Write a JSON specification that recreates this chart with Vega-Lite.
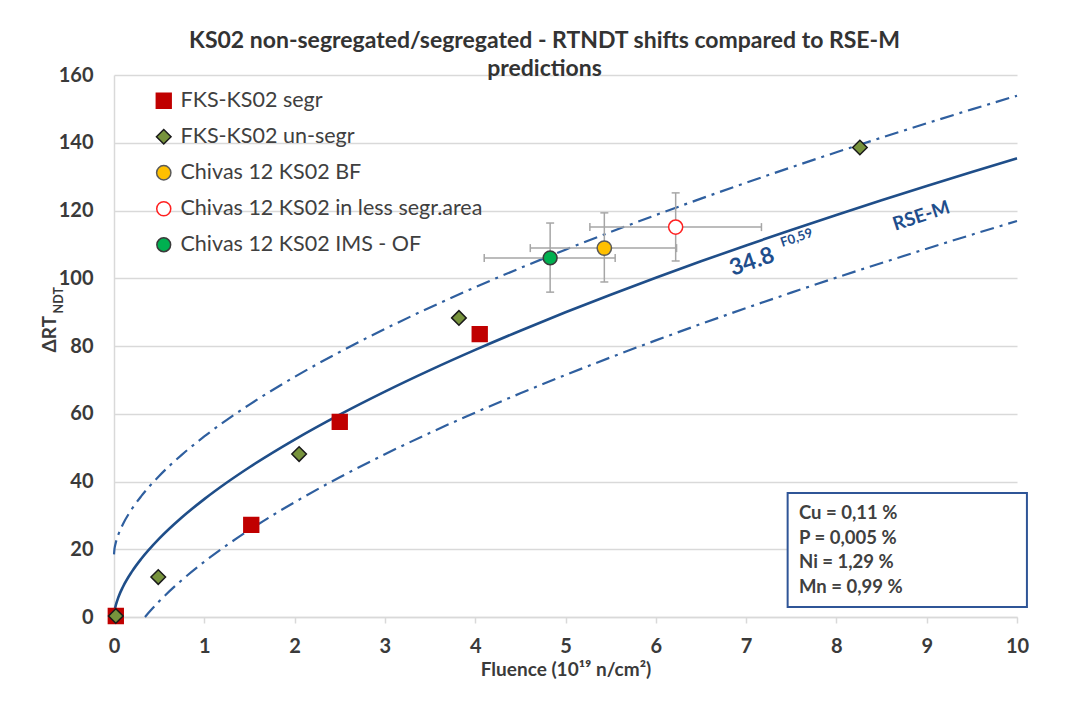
{
  "$schema": "https://vega.github.io/schema/vega-lite/v6.json",
  "autosize": {"type": "none"},
  "width": 903,
  "height": 542,
  "padding": {"left": 114, "top": 75, "right": 63, "bottom": 90},
  "background": "white",
  "config": {
    "font": "Lato",
    "view": {"stroke": null},
    "legend": {
      "labelFontSize": 21.5, "labelColor": "#404040", "labelFont": "Lato", "labelLimit": 500,
      "rowPadding": 13, "symbolStrokeWidth": 1.5, "labelOffset": 6, "padding": 0,
      "symbolOpacity": 1
    }
  },
  "title": {
    "text": ["KS02 non-segregated/segregated - RTNDT shifts compared to RSE-M", "predictions"],
    "fontSize": 23, "fontWeight": "bold", "color": "#333333", "lineHeight": 28,
    "anchor": "middle", "dx": -21, "offset": -16
  },
  "datasets": {
    "rsem": [
      {"F": 0, "v": 0}, {"F": 0.005, "v": 1.53}, {"F": 0.01, "v": 2.3}, {"F": 0.02, "v": 3.46},
      {"F": 0.05, "v": 5.94}, {"F": 0.1, "v": 8.94}, {"F": 0.2, "v": 13.46}, {"F": 0.3, "v": 17.1},
      {"F": 0.5, "v": 23.12}, {"F": 0.75, "v": 29.37}, {"F": 1, "v": 34.8}, {"F": 1.25, "v": 39.7},
      {"F": 1.5, "v": 44.21}, {"F": 2, "v": 52.38}, {"F": 2.5, "v": 59.75}, {"F": 3, "v": 66.54},
      {"F": 3.5, "v": 72.88}, {"F": 4, "v": 78.85}, {"F": 4.5, "v": 84.52}, {"F": 5, "v": 89.94},
      {"F": 5.5, "v": 95.15}, {"F": 6, "v": 100.16}, {"F": 6.5, "v": 105.0}, {"F": 7, "v": 109.69},
      {"F": 7.5, "v": 114.25}, {"F": 8, "v": 118.69}, {"F": 8.5, "v": 123.0}, {"F": 9, "v": 127.23},
      {"F": 9.5, "v": 131.36}, {"F": 10, "v": 135.39}
    ],
    "bounds": [
      {"b": "upper", "F": 0, "v": 18.5}, {"b": "upper", "F": 0.005, "v": 20.03}, {"b": "upper", "F": 0.01, "v": 20.8},
      {"b": "upper", "F": 0.02, "v": 21.96}, {"b": "upper", "F": 0.05, "v": 24.44}, {"b": "upper", "F": 0.1, "v": 27.44},
      {"b": "upper", "F": 0.2, "v": 31.96}, {"b": "upper", "F": 0.3, "v": 35.6}, {"b": "upper", "F": 0.5, "v": 41.62},
      {"b": "upper", "F": 0.75, "v": 47.87}, {"b": "upper", "F": 1, "v": 53.3}, {"b": "upper", "F": 1.25, "v": 58.2},
      {"b": "upper", "F": 1.5, "v": 62.71}, {"b": "upper", "F": 2, "v": 70.88}, {"b": "upper", "F": 2.5, "v": 78.25},
      {"b": "upper", "F": 3, "v": 85.04}, {"b": "upper", "F": 3.5, "v": 91.38}, {"b": "upper", "F": 4, "v": 97.35},
      {"b": "upper", "F": 4.5, "v": 103.02}, {"b": "upper", "F": 5, "v": 108.44}, {"b": "upper", "F": 5.5, "v": 113.65},
      {"b": "upper", "F": 6, "v": 118.66}, {"b": "upper", "F": 6.5, "v": 123.5}, {"b": "upper", "F": 7, "v": 128.19},
      {"b": "upper", "F": 7.5, "v": 132.75}, {"b": "upper", "F": 8, "v": 137.19}, {"b": "upper", "F": 8.5, "v": 141.5},
      {"b": "upper", "F": 9, "v": 145.73}, {"b": "upper", "F": 9.5, "v": 149.86}, {"b": "upper", "F": 10, "v": 153.89},
      {"b": "lower", "F": 0.3427, "v": 0}, {"b": "lower", "F": 0.4, "v": 1.77}, {"b": "lower", "F": 0.5, "v": 4.62},
      {"b": "lower", "F": 0.75, "v": 10.87}, {"b": "lower", "F": 1, "v": 16.3}, {"b": "lower", "F": 1.25, "v": 21.2},
      {"b": "lower", "F": 1.5, "v": 25.71}, {"b": "lower", "F": 2, "v": 33.88}, {"b": "lower", "F": 2.5, "v": 41.25},
      {"b": "lower", "F": 3, "v": 48.04}, {"b": "lower", "F": 3.5, "v": 54.38}, {"b": "lower", "F": 4, "v": 60.35},
      {"b": "lower", "F": 4.5, "v": 66.02}, {"b": "lower", "F": 5, "v": 71.44}, {"b": "lower", "F": 5.5, "v": 76.65},
      {"b": "lower", "F": 6, "v": 81.66}, {"b": "lower", "F": 6.5, "v": 86.5}, {"b": "lower", "F": 7, "v": 91.19},
      {"b": "lower", "F": 7.5, "v": 95.75}, {"b": "lower", "F": 8, "v": 100.19}, {"b": "lower", "F": 8.5, "v": 104.5},
      {"b": "lower", "F": 9, "v": 108.73}, {"b": "lower", "F": 9.5, "v": 112.86}, {"b": "lower", "F": 10, "v": 116.89}
    ],
    "pts": [
      {"s": "FKS-KS02 segr", "F": 0.02, "v": 0.3},
      {"s": "FKS-KS02 segr", "F": 1.52, "v": 27.2},
      {"s": "FKS-KS02 segr", "F": 2.5, "v": 57.6},
      {"s": "FKS-KS02 segr", "F": 4.05, "v": 83.5},
      {"s": "FKS-KS02 un-segr", "F": 0.02, "v": 0.3},
      {"s": "FKS-KS02 un-segr", "F": 0.49, "v": 11.8},
      {"s": "FKS-KS02 un-segr", "F": 2.05, "v": 48.1},
      {"s": "FKS-KS02 un-segr", "F": 3.82, "v": 88.3},
      {"s": "FKS-KS02 un-segr", "F": 8.26, "v": 138.6},
      {"s": "Chivas 12 KS02 BF", "F": 5.43, "v": 108.9, "Flo": 4.61, "Fhi": 6.23, "ylo": 98.9, "yhi": 119.3},
      {"s": "Chivas 12 KS02 in less segr.area", "F": 6.22, "v": 115.1, "Flo": 5.27, "Fhi": 7.17, "ylo": 105.1, "yhi": 125.2},
      {"s": "Chivas 12 KS02 IMS - OF", "F": 4.83, "v": 106.0, "Flo": 4.1, "Fhi": 5.55, "ylo": 95.9, "yhi": 116.3}
    ],
    "notes": [{"n": 1}]
  },
  "layer": [
    {
      "data": {"name": "bounds"},
      "mark": {"type": "line", "color": "#2f5f9f", "strokeWidth": 2.2, "strokeDash": [14, 6, 3, 6], "interpolate": "monotone"},
      "encoding": {
        "x": {
          "field": "F", "type": "quantitative",
          "scale": {"domain": [0, 10], "nice": false, "zero": false},
          "axis": {
            "title": "Fluence (10¹⁹ n/cm²)", "values": [0, 1, 2, 3, 4, 5, 6, 7, 8, 9, 10], "format": "d",
            "domainColor": "#d9d9d9", "domainWidth": 1.5,
            "tickColor": "#d9d9d9", "tickSize": 6, "tickWidth": 1.5,
            "labelFontSize": 20, "labelFontWeight": "bold", "labelColor": "#3a3a3a", "labelPadding": 13, "labelFlush": false,
            "titleFontSize": 19, "titleFontWeight": "bold", "titleColor": "#3a3a3a", "titlePadding": 4,
            "grid": false
          }
        },
        "y": {
          "field": "v", "type": "quantitative",
          "scale": {"domain": [0, 160], "nice": false},
          "axis": {
            "title": null, "values": [0, 20, 40, 60, 80, 100, 120, 140, 160],
            "domainColor": "#d9d9d9", "domainWidth": 1.5, "ticks": false,
            "gridColor": "#d9d9d9", "gridWidth": 1.5,
            "labelFontSize": 20, "labelFontWeight": "bold", "labelColor": "#3a3a3a", "labelPadding": 21
          }
        },
        "detail": {"field": "b", "type": "nominal"}
      }
    },
    {
      "data": {"name": "rsem"},
      "mark": {"type": "line", "color": "#1f4e89", "strokeWidth": 2.6, "interpolate": "monotone"},
      "encoding": {
        "x": {"field": "F", "type": "quantitative"},
        "y": {"field": "v", "type": "quantitative"}
      }
    },
    {
      "data": {"name": "pts"},
      "transform": [{"filter": "isValid(datum.Flo)"}],
      "mark": {"type": "rule", "color": "#a6a6a6", "strokeWidth": 1.5},
      "encoding": {
        "x": {"field": "Flo", "type": "quantitative"},
        "x2": {"field": "Fhi"},
        "y": {"field": "v", "type": "quantitative"}
      }
    },
    {
      "data": {"name": "pts"},
      "transform": [{"filter": "isValid(datum.Flo)"}],
      "mark": {"type": "rule", "color": "#a6a6a6", "strokeWidth": 1.5},
      "encoding": {
        "x": {"field": "F", "type": "quantitative"},
        "y": {"field": "ylo", "type": "quantitative"},
        "y2": {"field": "yhi"}
      }
    },
    {
      "data": {"name": "pts"},
      "transform": [{"filter": "isValid(datum.Flo)"}],
      "mark": {"type": "tick", "orient": "vertical", "color": "#a6a6a6", "thickness": 1.5, "size": 8, "opacity": 1},
      "encoding": {"x": {"field": "Flo", "type": "quantitative"}, "y": {"field": "v", "type": "quantitative"}}
    },
    {
      "data": {"name": "pts"},
      "transform": [{"filter": "isValid(datum.Flo)"}],
      "mark": {"type": "tick", "orient": "vertical", "color": "#a6a6a6", "thickness": 1.5, "size": 8, "opacity": 1},
      "encoding": {"x": {"field": "Fhi", "type": "quantitative"}, "y": {"field": "v", "type": "quantitative"}}
    },
    {
      "data": {"name": "pts"},
      "transform": [{"filter": "isValid(datum.Flo)"}],
      "mark": {"type": "tick", "orient": "horizontal", "color": "#a6a6a6", "thickness": 1.5, "size": 8, "opacity": 1},
      "encoding": {"x": {"field": "F", "type": "quantitative"}, "y": {"field": "ylo", "type": "quantitative"}}
    },
    {
      "data": {"name": "pts"},
      "transform": [{"filter": "isValid(datum.Flo)"}],
      "mark": {"type": "tick", "orient": "horizontal", "color": "#a6a6a6", "thickness": 1.5, "size": 8, "opacity": 1},
      "encoding": {"x": {"field": "F", "type": "quantitative"}, "y": {"field": "yhi", "type": "quantitative"}}
    },
    {
      "data": {"name": "pts"},
      "mark": {"type": "point", "opacity": 1, "strokeWidth": 1.5, "filled": false},
      "encoding": {
        "x": {"field": "F", "type": "quantitative"},
        "y": {"field": "v", "type": "quantitative"},
        "shape": {
          "field": "s", "type": "nominal",
          "scale": {"domain": ["FKS-KS02 segr", "FKS-KS02 un-segr", "Chivas 12 KS02 BF", "Chivas 12 KS02 in less segr.area", "Chivas 12 KS02 IMS - OF"],
                    "range": ["square", "diamond", "circle", "circle", "circle"]},
          "legend": {"title": null, "orient": "none", "legendX": 39, "legendY": 15}
        },
        "fill": {
          "field": "s", "type": "nominal",
          "scale": {"domain": ["FKS-KS02 segr", "FKS-KS02 un-segr", "Chivas 12 KS02 BF", "Chivas 12 KS02 in less segr.area", "Chivas 12 KS02 IMS - OF"],
                    "range": ["#c00000", "#77933c", "#ffc000", "#ffffff", "#00b050"]},
          "legend": {"title": null, "orient": "none", "legendX": 39, "legendY": 15}
        },
        "stroke": {
          "field": "s", "type": "nominal",
          "scale": {"domain": ["FKS-KS02 segr", "FKS-KS02 un-segr", "Chivas 12 KS02 BF", "Chivas 12 KS02 in less segr.area", "Chivas 12 KS02 IMS - OF"],
                    "range": ["#c00000", "#1a1a1a", "#5a5a5a", "#ff2020", "#3a3a3a"]},
          "legend": {"title": null, "orient": "none", "legendX": 39, "legendY": 15}
        },
        "size": {
          "field": "s", "type": "nominal",
          "scale": {"domain": ["FKS-KS02 segr", "FKS-KS02 un-segr", "Chivas 12 KS02 BF", "Chivas 12 KS02 in less segr.area", "Chivas 12 KS02 IMS - OF"],
                    "range": [220, 190, 200, 140, 190]},
          "legend": {"title": null, "orient": "none", "legendX": 39, "legendY": 15}
        }
      }
    },
    {
      "data": {"name": "notes"},
      "mark": {"type": "text", "text": "34.8", "fontSize": 23, "fontWeight": "bold", "color": "#1f4e8c", "angle": 341, "align": "center", "baseline": "middle"},
      "encoding": {"x": {"datum": 7.065, "type": "quantitative"}, "y": {"datum": 104.8, "type": "quantitative"}}
    },
    {
      "data": {"name": "notes"},
      "mark": {"type": "text", "text": "F0,59", "fontSize": 13, "fontWeight": "bold", "color": "#1f4e8c", "angle": 341, "align": "center", "baseline": "middle"},
      "encoding": {"x": {"datum": 7.56, "type": "quantitative"}, "y": {"datum": 111.9, "type": "quantitative"}}
    },
    {
      "data": {"name": "notes"},
      "mark": {"type": "text", "text": "RSE-M", "fontSize": 19, "fontWeight": "bold", "color": "#1f4e8c", "angle": 342, "align": "center", "baseline": "middle"},
      "encoding": {"x": {"datum": 8.94, "type": "quantitative"}, "y": {"datum": 118.4, "type": "quantitative"}}
    },
    {
      "data": {"name": "notes"},
      "mark": {"type": "rect", "fill": "white", "stroke": "#2f5597", "strokeWidth": 2},
      "encoding": {
        "x": {"datum": 7.46, "type": "quantitative"}, "x2": {"datum": 10.11},
        "y": {"datum": 36.6, "type": "quantitative"}, "y2": {"datum": 2.95}
      }
    },
    {
      "data": {"name": "notes"},
      "mark": {"type": "text", "text": ["Cu = 0,11 %", "P = 0,005 %", "Ni = 1,29 %", "Mn = 0,99 %"], "fontSize": 18.5, "fontWeight": "bold", "color": "#404040", "align": "left", "baseline": "top", "lineHeight": 24.7},
      "encoding": {"x": {"datum": 7.586, "type": "quantitative"}, "y": {"datum": 33.4, "type": "quantitative"}}
    },
    {
      "data": {"name": "notes"},
      "mark": {"type": "text", "text": "ΔRT", "fontSize": 19, "fontWeight": "bold", "color": "#3a3a3a", "angle": 270, "align": "center", "baseline": "middle"},
      "encoding": {"x": {"datum": -0.71, "type": "quantitative"}, "y": {"datum": 83.5, "type": "quantitative"}}
    },
    {
      "data": {"name": "notes"},
      "mark": {"type": "text", "text": "NDT", "fontSize": 12.5, "fontWeight": "bold", "color": "#3a3a3a", "angle": 270, "align": "center", "baseline": "middle"},
      "encoding": {"x": {"datum": -0.61, "type": "quantitative"}, "y": {"datum": 93.5, "type": "quantitative"}}
    }
  ]
}
